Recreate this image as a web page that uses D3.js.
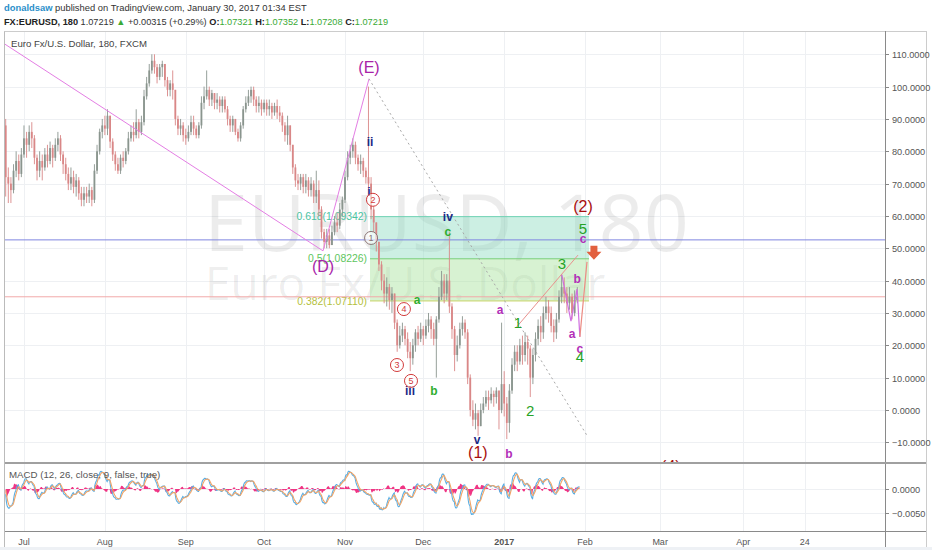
<!DOCTYPE html>
<html><head><meta charset="utf-8">
<script src="https://cdn.jsdelivr.net/npm/d3@7"></script>
<style>html,body{margin:0;padding:0;background:#fff;}svg{display:block;font-family:"Liberation Sans",Arial,sans-serif;}</style>
</head><body><svg id="c" width="932" height="550"></svg>
<script>
// ---------------- DATA ----------------
const startDate = "2016-06-24";          // first (daily-sampled) bar
const firstOpen = 88;
const closes = [
 72,70,68,74,77,73,79,84,82,86, 84,78,74,77,75,79,77,81,78,82,
 84,79,76,73,70,72,69,71,67,65, 67,66,68,65,74,80,86,88,87,91,
 83,79,76,74,78,77,80,84,86,85, 89,86,89,97,101,105,108,106,103,106,
 107,102,99,101,99,90,87,88,85,84, 86,89,87,85,88,95,97,99,96,98,
 95,96,94,96,93,90,88,90,86,84, 88,93,95,97,99,96,94,95,93,95,
 93,94,92,94,92,91,88,85,88,82, 75,71,70,72,69,71,68,70,66,68,
 62,55,52,54,51,55,58,57,62,65, 72,78,80,82,78,76,77,74,72,70,
 62,58,52,45,40,36,38,34,36,27, 20,23,25,22,18,16,20,24,22,25,
 23,26,28,25,22,28,35,40,36,40, 32,25,17,20,25,27,24,10,0,-3,
 -1,-5,0,2,4,3,5,4,6,0, 8,2,-4,6,14,18,15,20,17,21,
 19,10,17,22,26,24,30,32,30,26, 24,28,35,38,36,33,35,30,34,35];
const highs = [
 90,75,72,76,80,79,81,88,86,88, 89,85,79,80,79,81,82,83,82,84,
 86,85,80,78,75,75,74,73,72,69, 69,69,70,69,76,82,87,90,91,93,
 91,84,80,78,79,80,81,86,88,89, 93,90,91,99,103,107,110,110,107,107,
 108,107,103,102,105,99,91,90,89,87, 88,91,91,88,89,97,100,105,100,99,
 98,98,97,97,97,94,91,91,90,87, 89,94,97,99,100,100,97,97,96,96,
 96,96,95,95,96,94,92,89,91,88, 82,76,73,73,73,73,72,72,71,74,
 71,63,56,56,56,57,60,61,64,66, 74,80,82,84,83,79,79,78,75,100,
 72,63,58,52,46,42,41,39,38,36, 28,26,27,26,24,21,22,25,26,27,
 26,28,30,29,27,29,38,43,42,42, 55,33,26,23,27,29,28,25,11,3,
 2,0,2,4,6,6,7,6,7,6, 27,12,4,8,16,20,20,22,23,24,
 23,20,19,24,28,29,32,35,34,32, 28,30,37,42,41,38,38,36,37,38];
const lows = [
 66,64,64,67,72,71,72,78,78,80, 81,76,71,72,71,74,75,76,75,77,
 80,77,73,71,68,68,67,66,65,63, 63,64,64,63,64,73,79,84,85,85,
 81,77,74,73,73,75,76,79,83,83, 84,84,85,88,96,100,104,104,101,102,
 103,100,97,97,96,88,85,85,83,82, 83,85,85,84,84,87,93,96,94,94,
 93,93,92,92,92,88,86,86,85,83, 83,87,92,94,95,94,92,92,91,92,
 91,91,90,91,90,89,86,83,82,80, 73,69,68,68,67,67,66,66,64,64,
 60,53,50,50,50,51,54,55,56,60, 64,71,76,78,76,74,73,72,70,68,
 59,55,49,43,37,33,32,31,30,25, 18,19,21,20,16,12,14,18,20,21,
 20,22,24,22,20,10,27,34,33,34, 30,22,12,15,19,23,22,8,-2,-5,
 -6,-8,-5,-1,1,0,2,1,2,-6, -1,-2,-9,-7,5,12,12,14,14,15,
 14,4,8,15,20,21,22,28,27,24, 21,22,27,33,33,30,31,28,29,33];

const valueTicks = [-10,0,10,20,30,40,50,60,70,80,90,100,110];
const macdTicks = [0, -0.005];
const timeTickDates = ["2016-07-01","2016-08-01","2016-09-01","2016-10-01","2016-11-01","2016-12-01","2017-01-01","2017-02-01","2017-03-01","2017-04-01","2017-04-24"];
const timeTickLabels = ["Jul","Aug","Sep","Oct","Nov","Dec","2017","Feb","Mar","Apr","24"];

// price <-> chart units (from the fib labels)
const priceRef = [1.04224, 1.13640];
const unitRef = [0, 110];
const fibRatios = ["0.618","0.5","0.382"];
const fibPrices = [1.09342, 1.08226, 1.07110];
const fibZone = ["2016-11-10T14:00","2017-02-02T11:00"];

const blueLevel = 52.6;
const macdParams = [12, 26, 9];
const barMinutes = 180;

// Elliott wave drawing lines
const primaryLine = [["2016-06-23T00:00",113.5],["2016-10-23T14:00",49.2],["2016-11-10T05:00",102.4]];
const dottedLine = [["2016-11-10T05:00",102.4],["2017-02-02T02:00",-8.4]];
const channelLine = [["2017-01-05T12:00",25.4],["2017-01-29T07:00",47.9]];
const subWaveLine = [["2017-01-23T02:00",41.8],["2017-01-26T14:00",27.5],["2017-01-28T22:00",37.4],["2017-01-30T00:00",22.6]];
const projLine = [["2017-01-30T00:00",22.6],["2017-02-01T17:00",45.8]];
const arrowAt = ["2017-02-04T07:00",48.6];

// labels: text, date, value, degree
const waveLabels = [
 ["(E)","2016-11-10T05:00",105.8,"cycle"],["(D)","2016-10-23T14:00",44.5,"cycle"],
 ["ii","2016-11-10T14:00",82.9,"minor"],["i","2016-11-10T05:00",67.4,"minor"],
 ["iv","2016-12-10T10:00",59.7,"minor"],["iii","2016-11-25T22:00",5.9,"minor"],["v","2016-12-21T14:00",-9.3,"minor"],
 ["c","2016-12-10T10:00",55,"minute"],["a","2016-11-28T14:00",34,"minute"],["b","2016-12-05T02:00",5.9,"minute"],
 ["(1)","2016-12-21T22:00",-13,"primary"],["(2)","2017-01-31T05:00",63.1,"primary"],["(4)","2017-03-05T00:00",-17.6,"primary"],
 ["a","2016-12-30T10:00",30.9,"sub"],["b","2017-01-02T19:00",-13.6,"sub"],
 ["c","2017-01-31T05:00",52.9,"sub"],["b","2017-01-28T22:00",40.5,"sub"],["a","2017-01-27T00:00",23.5,"sub"],["c","2017-01-30T00:00",18.9,"sub"],
 ["1","2017-01-06T07:00",26.9,"inter"],["2","2017-01-10T22:00",-0.3,"inter"],["3","2017-01-23T02:00",45.2,"inter"],
 ["5","2017-01-31T05:00",56,"inter"],["4","2017-01-30T00:00",16.4,"inter"]
];
const circledLabels = [
 ["2","2016-11-11T17:00",65,"red"],["1","2016-11-11T00:00",53.2,"gray"],
 ["4","2016-11-23T14:00",31.2,"red"],["3","2016-11-20T22:00",13.9,"red"],["5","2016-11-26T07:00",9,"red"]
];

// header
const author = "donaldsaw";
const published = " published on TradingView.com, January 30, 2017 01:34 EST";
const symbolLine = "FX:EURUSD, 180";
const lastPrice = "1.07219", change = "+0.00315 (+0.29%)";
const ohlcKeys = ["O:","H:","L:","C:"], ohlcVals = ["1.07321","1.07352","1.07208","1.07219"];
const chartTitle = "Euro Fx/U.S. Dollar, 180, FXCM";
const macdTitle = "MACD (12, 26, close, 9, false, true)";

// ---------------- LAYOUT ----------------
const svg = d3.select("#c");
const L = 5, R = 885, T = 31, MB = 463, QB = 531;
const P = d3.isoParse;
const t0 = d3.utcParse("%Y-%m-%d")(startDate);

const x = d3.scaleUtc()
  .domain([t0, P("2017-02-01T00:00Z"), P("2017-06-01T00:00Z")])
  .range([5.7, 585.1, 906.7]);
const y = d3.scaleLinear().domain([-16.4, 117.2]).range([MB, T]);
const yM = d3.scaleLinear().domain([-0.00875, 0.00542]).range([QB, MB]);
const priceToUnit = d3.scaleLinear().domain(priceRef).range(unitRef);
const D = s => P(s.length <= 10 ? s + "T00:00Z" : s + "Z");

const bars = closes.map((c, i) => ({
  date: d3.utcDay.offset(t0, i),
  o: i ? closes[i - 1] : firstOpen, h: highs[i], l: lows[i], c
}));

// background bits
svg.append("rect").attr("x",0).attr("y",547).attr("width",932).attr("height",3).attr("fill","#eef1f5");

// clip paths
const defs = svg.append("defs");
defs.append("clipPath").attr("id","cm").append("rect").attr("x",L).attr("y",T).attr("width",R-L).attr("height",MB-T);
defs.append("clipPath").attr("id","cq").append("rect").attr("x",L).attr("y",MB).attr("width",R-L).attr("height",QB-MB);

// grid
const grid = svg.append("g").attr("stroke","#eef0f3").attr("stroke-width",1);
timeTickDates.forEach(d => { const xx = Math.round(x(D(d))) + .5;
  grid.append("line").attr("x1",xx).attr("x2",xx).attr("y1",T).attr("y2",QB); });
valueTicks.forEach(v => { const yy = Math.round(y(v)) + .5;
  grid.append("line").attr("x1",L).attr("x2",R).attr("y1",yy).attr("y2",yy); });
macdTicks.forEach(v => { const yy = Math.round(yM(v)) + .5;
  grid.append("line").attr("x1",L).attr("x2",R).attr("y1",yy).attr("y2",yy); });

const main = svg.append("g").attr("clip-path","url(#cm)");

// watermark
main.append("text").attr("x",204).attr("y",251).text("EURUSD, 180")
  .style("font-family","'Open Sans',sans-serif").style("font-size","79px").attr("fill","#000").attr("fill-opacity",0.075);
main.append("text").attr("x",205).attr("y",300).text("Euro Fx/U.S. Dollar")
  .style("font-family","'Open Sans',sans-serif").style("font-size","46px").attr("fill","#000").attr("fill-opacity",0.075);

// fib zone
const fy = fibPrices.map(p => y(priceToUnit(p)));
const fx0 = x(D(fibZone[0])), fx1 = x(D(fibZone[1]));
main.append("rect").attr("x",fx0).attr("y",fy[0]).attr("width",fx1-fx0).attr("height",fy[1]-fy[0]).attr("fill","#8fdcc0").attr("fill-opacity",0.45);
main.append("rect").attr("x",fx0).attr("y",fy[1]).attr("width",fx1-fx0).attr("height",fy[2]-fy[1]).attr("fill","#a6e39c").attr("fill-opacity",0.45);
const fibCol = ["#4cc4a2","#5ec65e","#b4bf3c"];
const fibLineCol = ["#6fd3b4","#78cf78","#c8d468"];
fibRatios.forEach((r,i) => {
  main.append("line").attr("x1",fx0).attr("x2",fx1).attr("y1",fy[i]).attr("y2",fy[i]).attr("stroke",fibLineCol[i]).attr("stroke-width",1);
  main.append("text").attr("x",fx0-3).attr("y",fy[i]).attr("dy","0.35em").attr("text-anchor","end")
    .style("font-size","10.4px").attr("fill",fibCol[i]).text(`${r}(${fibPrices[i].toFixed(5)})`);
});

// horizontal lines
main.append("line").attr("x1",L).attr("x2",R).attr("y1",y(blueLevel)).attr("y2",y(blueLevel)).attr("stroke","#7f86e0").attr("stroke-width",1);
const lastV = closes[closes.length-1];
main.append("line").attr("x1",L).attr("x2",R).attr("y1",y(lastV)).attr("y2",y(lastV)).attr("stroke","#f2a9a9").attr("stroke-width",1);

// candles
const up = "#8a958e", dn = "#d98787";
const cg = main.append("g");
cg.selectAll("line").data(bars).join("line")
  .attr("x1",d=>x(d.date)).attr("x2",d=>x(d.date))
  .attr("y1",d=>y(Math.max(d.h,d.o,d.c))).attr("y2",d=>y(Math.min(d.l,d.o,d.c)))
  .attr("stroke",d=>d.c>=d.o?up:dn).attr("stroke-width",0.9);
cg.selectAll("rect").data(bars).join("rect")
  .attr("x",d=>x(d.date)-0.9).attr("width",1.8)
  .attr("y",d=>y(Math.max(d.o,d.c))).attr("height",d=>Math.max(0.8,Math.abs(y(d.o)-y(d.c))))
  .attr("fill",d=>d.c>=d.o?up:dn);

// wave lines
const ln = d3.line().x(d=>x(D(d[0]))).y(d=>y(d[1]));
main.append("path").attr("d",ln(primaryLine)).attr("fill","none").attr("stroke","#e47ee4").attr("stroke-width",1);
main.append("path").attr("d",ln(dottedLine)).attr("fill","none").attr("stroke","#a8a8a8").attr("stroke-width",1).attr("stroke-dasharray","2,3");
main.append("path").attr("d",ln(channelLine)).attr("fill","none").attr("stroke","#e9918e").attr("stroke-width",1);
main.append("path").attr("d",ln(subWaveLine)).attr("fill","none").attr("stroke","#cf6fe0").attr("stroke-width",1.2);
main.append("path").attr("d",ln(projLine)).attr("fill","none").attr("stroke","#ec8c84").attr("stroke-width",1.2);

// arrow
const ax = x(D(arrowAt[0])), ay = y(arrowAt[1]);
main.append("path").attr("transform",`translate(${ax},${ay})`)
  .attr("d","M-3.5,-7 L3.5,-7 L3.5,-1 L7.5,-1 L0,7 L-7.5,-1 L-3.5,-1 Z").attr("fill","#e2603f");

// labels
const st = {
  cycle:  {size:16, color:"#a823a8", weight:400},
  primary:{size:16, color:"#a80f0f", weight:400},
  inter:  {size:15, color:"#27a327", weight:400},
  minor:  {size:12, color:"#1c2a86", weight:700},
  minute: {size:12, color:"#2fae2f", weight:700},
  sub:    {size:12, color:"#b22fb8", weight:700}
};
waveLabels.forEach(([t,d,v,k]) => {
  const s = st[k];
  main.append("text").attr("x",x(D(d))).attr("y",y(v)).attr("dy","0.35em").attr("text-anchor","middle")
    .style("font-size",s.size+"px").style("font-weight",s.weight).attr("fill",s.color).text(t);
});
circledLabels.forEach(([t,d,v,k]) => {
  const cx = x(D(d)), cy = y(v), col = k==="red" ? "#d23a3a" : "#8a7373";
  main.append("circle").attr("cx",cx).attr("cy",cy).attr("r",6.5).attr("fill","#fff").attr("fill-opacity",0.6).attr("stroke",col).attr("stroke-width",1);
  main.append("text").attr("x",cx).attr("y",cy).attr("dy","0.35em").attr("text-anchor","middle").style("font-size","9px").attr("fill",col).text(t);
});

// MACD
const [f, s, g] = macdParams;
const steps = 24*60/barMinutes;
const toPrice = priceToUnit.invert;
const af = 2/(f+1), as = 2/(s+1), ag = 2/(g+1);
let ef = toPrice(firstOpen), es = ef, sg = 0;
const mp = [];
bars.forEach(b => {
  const p = toPrice(b.c);
  for (let k = 0; k < steps; k++) {
    ef += af*(p-ef); es += as*(p-es);
    const m = ef - es; sg += ag*(m - sg);
    mp.push({t: new Date(+b.date + k*barMinutes*60000), m, s: sg, h: m - sg});
  }
});
const q = svg.append("g").attr("clip-path","url(#cq)");
q.append("path").attr("d", d3.area().x(d=>x(d.t)).y0(yM(0)).y1(d=>yM(d.h))(mp)).attr("fill","#ee1f77").attr("fill-opacity",0.9);
q.append("path").attr("d", d3.line().x(d=>x(d.t)).y(d=>yM(d.m))(mp)).attr("fill","none").attr("stroke","#5aaee3").attr("stroke-width",1.1);
q.append("path").attr("d", d3.line().x(d=>x(d.t)).y(d=>yM(d.s))(mp)).attr("fill","none").attr("stroke","#f2a466").attr("stroke-width",1.1);
svg.append("text").attr("x",9).attr("y",478).style("font-size","9.7px").attr("fill","#555").text(macdTitle);

// frame
const fr = svg.append("g").attr("fill","none");
fr.append("line").attr("x1",4.5).attr("x2",4.5).attr("y1",31).attr("y2",547).attr("stroke","#bbb");
fr.append("line").attr("x1",4.5).attr("x2",926.5).attr("y1",31.5).attr("y2",31.5).attr("stroke","#ccc");
fr.append("line").attr("x1",926.5).attr("x2",926.5).attr("y1",31).attr("y2",547).attr("stroke","#ccc");
fr.append("line").attr("x1",885.5).attr("x2",885.5).attr("y1",31).attr("y2",547).attr("stroke","#8a8a8a");
fr.append("line").attr("x1",5).attr("x2",926).attr("y1",MB).attr("y2",MB).attr("stroke","#a0a0a0").attr("stroke-width",2);
fr.append("line").attr("x1",5).attr("x2",926).attr("y1",QB+.5).attr("y2",QB+.5).attr("stroke","#8a8a8a");

// right axis
const ra = svg.append("g");
valueTicks.forEach(v => { const yy = Math.round(y(v)) + .5;
  ra.append("line").attr("x1",885).attr("x2",889).attr("y1",yy).attr("y2",yy).attr("stroke","#888");
  ra.append("text").attr("x",892).attr("y",yy).attr("dy","0.35em").style("font-size","9.2px").attr("fill","#555").text(d3.format(".4f")(v)); });
macdTicks.forEach(v => { const yy = Math.round(yM(v)) + .5;
  ra.append("line").attr("x1",885).attr("x2",889).attr("y1",yy).attr("y2",yy).attr("stroke","#888");
  ra.append("text").attr("x",892).attr("y",yy).attr("dy","0.35em").style("font-size","9.2px").attr("fill","#555").text(d3.format(".4f")(v)); });

// time axis
timeTickDates.forEach((d,i) => {
  svg.append("text").attr("x",x(D(d))).attr("y",542).attr("dy","0.35em").attr("text-anchor","middle")
    .style("font-size","9px").style("font-weight", timeTickLabels[i]==="2017"?700:400).attr("fill","#555").text(timeTickLabels[i]);
});

// header
const h1 = svg.append("text").attr("x",4).attr("y",11).style("font-size","9.4px");
h1.append("tspan").text(author).attr("fill","#2b8fca").style("font-weight",700);
h1.append("tspan").text(published).attr("fill","#333");
const h2 = svg.append("text").attr("x",4).attr("y",25).style("font-size","9.2px");
h2.append("tspan").text(symbolLine).attr("fill","#222").style("font-weight",700);
h2.append("tspan").text(" " + lastPrice + " ").attr("fill","#333");
h2.append("tspan").text("\u25B2").attr("fill","#3aaa35");
h2.append("tspan").text(" " + change + " ").attr("fill","#333");
ohlcKeys.forEach((k,i) => {
  h2.append("tspan").text((i?" ":"") + k).attr("fill","#222").style("font-weight",700);
  h2.append("tspan").text(ohlcVals[i]).attr("fill","#3aaa35");
});
svg.append("text").attr("x",11).attr("y",47).style("font-size","9.6px").attr("fill","#444").text(chartTitle);
</script></body></html>
